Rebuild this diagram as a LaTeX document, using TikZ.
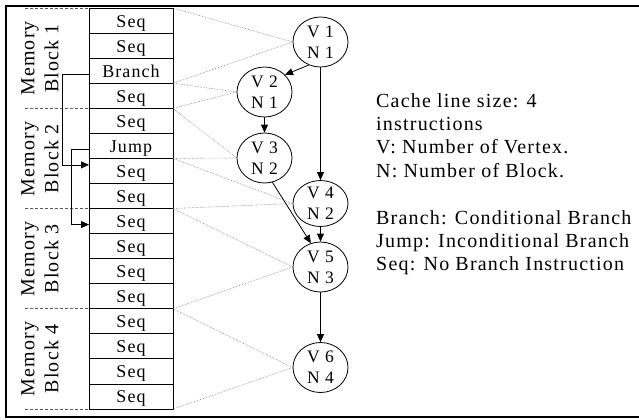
\documentclass[tikz,border=0pt]{standalone}
\usepackage{fontspec}
\setmainfont{Liberation Serif}[LetterSpace=6]
\usetikzlibrary{shapes.geometric,arrows.meta}

\begin{document}
\begin{tikzpicture}[x=1bp,y=-1bp,
	instr/.style={draw=black,line width=0.8bp,inner sep=0pt,outer sep=0pt,
		minimum width=84bp,minimum height=25.06bp,text height=14.5bp,text depth=1.5bp,
		font=\fontsize{18bp}{20bp}\selectfont},
	vertex/.style={ellipse,draw=black,line width=0.8bp,inner sep=0pt,
		minimum width=55bp,minimum height=50bp,align=center,
		font=\fontsize{17.5bp}{21bp}\selectfont},
	blocklabel/.style={rotate=90,align=center,inner sep=0pt,
		font=\fontsize{20bp}{24bp}\selectfont},
	cachemap/.style={black!50,line width=0.6bp,densely dotted},
	blocksep/.style={black!65,line width=0.8bp,dash pattern=on 3bp off 2bp},
	flow/.style={line width=0.8bp,-{Triangle[length=8bp,width=7bp]}}]
	\useasboundingbox (0,0) rectangle (639,419);
	\draw[line width=2.5bp] (6,6) rectangle (642,417);

	% memory, one row per instruction
	\node[instr] (r1) at (131,20.53) {Seq};
	\node[instr] (r2) at (131,45.59) {Seq};
	\node[instr] (r3) at (131,70.66) {Branch};
	\node[instr] (r4) at (131,95.72) {Seq};
	\node[instr] (r5) at (131,120.78) {Seq};
	\node[instr] (r6) at (131,145.84) {Jump};
	\node[instr] (r7) at (131,170.91) {Seq};
	\node[instr] (r8) at (131,195.97) {Seq};
	\node[instr] (r9) at (131,221.03) {Seq};
	\node[instr] (r10) at (131,246.09) {Seq};
	\node[instr] (r11) at (131,271.16) {Seq};
	\node[instr] (r12) at (131,296.22) {Seq};
	\node[instr] (r13) at (131,321.28) {Seq};
	\node[instr] (r14) at (131,346.34) {Seq};
	\node[instr] (r15) at (131,371.41) {Seq};
	\node[instr] (r16) at (131,396.47) {Seq};

	\draw[blocksep] ([xshift=-64bp]r1.north west) -- (r1.north west);
	\draw[blocksep] ([xshift=-64bp]r4.south west) -- (r4.south west);
	\draw[blocksep] ([xshift=-64bp]r8.south west) -- (r8.south west);
	\draw[blocksep] ([xshift=-64bp]r12.south west) -- (r12.south west);
	\draw[blocksep] ([xshift=-64bp]r16.south west) -- (r16.south west);

	\node[blocklabel] (m1) at (40,58.5) {Memory\\Block 1};
	\node[blocklabel] (m2) at (40,159) {Memory\\Block 2};
	\node[blocklabel] (m3) at (40,259) {Memory\\Block 3};
	\node[blocklabel] (m4) at (40,359) {Memory\\Block 4};

	% branch and jump targets
	\draw[flow] ([yshift=-3.6bp]r3.west) -- ++(-27,0) |- ([yshift=6bp]r7.west);
	\draw[flow] ([yshift=-3.3bp]r6.west) -- ++(-18,0) |- ([yshift=-3.5bp]r9.west);

	% graph
	\node[vertex] (v1) at (320.5,42) {V 1\\N 1};
	\node[vertex] (v2) at (264.5,92) {V 2\\N 1};
	\node[vertex] (v3) at (264.5,158) {V 3\\N 2};
	\node[vertex,minimum height=43bp] (v4) at (320.5,203.5) {V 4\\N 2};
	\node[vertex] (v5) at (320.5,267) {V 5\\N 3};
	\node[vertex] (v6) at (320.5,367.5) {V 6\\N 4};

	\draw[flow] (v1.243) -- (v2.40);
	\draw[flow] (v1) -- (v4);
	\draw[flow] (v2) -- (v3);
	\draw[flow] (v3.288) -- (v5.112);
	\draw[flow] (v4) -- (v5);
	\draw[flow] (v5) -- (v6);

	\draw[cachemap] (r1.north east) -- (v1.west);
	\draw[cachemap] (r3.south east) -- (v1.west);
	\draw[cachemap] (r4.north east) -- (v2.west);
	\draw[cachemap] (r4.south east) -- (v2.west);
	\draw[cachemap] (r5.north east) -- (v3.west);
	\draw[cachemap] (r6.south east) -- (v3.west);
	\draw[cachemap] (r7.north east) -- (v4.west);
	\draw[cachemap] (r8.south east) -- (v4.west);
	\draw[cachemap] (r9.north east) -- (v5.west);
	\draw[cachemap] (r12.south east) -- (v5.west);
	\draw[cachemap] (r13.north east) -- (v6.west);
	\draw[cachemap] (r16.south east) -- (v6.west);

	\node[anchor=north west,inner sep=0pt,align=left,
	font=\fontsize{20bp}{23.4bp}\selectfont] (legend) at (376,93)
	{Cache line size: 4\\instructions\\V: Number of Vertex.\\N: Number of Block.\\[23.4bp]
		Branch: Conditional Branch\\Jump: Inconditional Branch\\Seq: No Branch Instruction};
\end{tikzpicture}
\end{document}
